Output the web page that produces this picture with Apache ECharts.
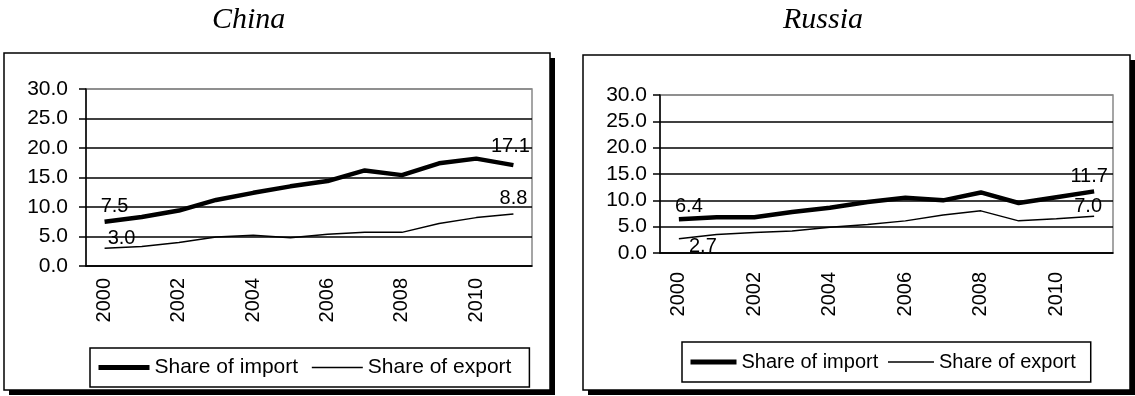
<!DOCTYPE html>
<html>
<head>
<meta charset="utf-8">
<title>China / Russia</title>
<script src="https://cdn.jsdelivr.net/npm/echarts@6/dist/echarts.min.js"></script>
<style>
  html, body { margin: 0; padding: 0; background: #fff; }
  #chart { width: 1135px; height: 396px; }
</style>
</head>
<body>
<div id="chart"></div>
<script>
const years = ['2000', '2001', '2002', '2003', '2004', '2005', '2006', '2007', '2008', '2009', '2010', '2011']
const chinaImport = [7.5, 8.3, 9.4, 11.2, 12.4, 13.5, 14.4, 16.2, 15.4, 17.4, 18.2, 17.1]
const chinaExport = [3.0, 3.3, 4.0, 4.9, 5.2, 4.8, 5.4, 5.7, 5.7, 7.2, 8.2, 8.8]
const russiaImport = [6.4, 6.8, 6.8, 7.8, 8.6, 9.7, 10.5, 10.0, 11.5, 9.5, 10.6, 11.7]
const russiaExport = [2.7, 3.5, 3.9, 4.2, 4.9, 5.4, 6.1, 7.2, 8.0, 6.1, 6.5, 7.0]
const seriesNames = ['Share of import', 'Share of export']
const yMin = 0
const yMax = 30
const yStep = 5

const font = 'Liberation Sans, Arial, sans-serif'
const serif = 'Liberation Serif, Times New Roman, serif'
const black = '#000'
const importWidth = 4.5
const exportWidth = 1.5

// only first and last point carry a value label
function withEndLabels (values, first, last) {
  return values.map(function (v, i) {
    if (i === 0) return { value: v, label: Object.assign({ show: true }, first) }
    if (i === values.length - 1) return { value: v, label: Object.assign({ show: true }, last) }
    return v
  })
}

function xAxisFor (gridIndex, margin) {
  return {
    type: 'category',
    gridIndex: gridIndex,
    data: years,
    boundaryGap: true,
    axisLine: { lineStyle: { color: black, width: 1.5 } },
    axisTick: { interval: 0, length: 7, lineStyle: { color: black, width: 1.5 } },
    axisLabel: { interval: 1, rotate: 90, margin: margin, color: black, fontSize: 20, fontFamily: font },
    splitLine: { show: false }
  }
}

function yAxisFor (gridIndex, margin) {
  return {
    type: 'value',
    gridIndex: gridIndex,
    min: yMin,
    max: yMax,
    interval: yStep,
    axisLine: { show: true, lineStyle: { color: black, width: 1.5 } },
    axisTick: { show: true, length: 7, lineStyle: { color: black, width: 1.5 } },
    axisLabel: {
      margin: margin,
      color: black,
      fontSize: 21,
      fontFamily: font,
      formatter: function (v) { return v.toFixed(1) }
    },
    splitLine: {
      show: true,
      lineStyle: { color: [black, black, black, black, black, black, '#888'], width: 1.6 }
    }
  }
}

function legendFor (left, top, itemWidth, itemGap, padding, fontSize) {
  return {
    data: [
      { name: seriesNames[0], lineStyle: { width: importWidth + 0.5 } },
      { name: seriesNames[1], lineStyle: { width: exportWidth } }
    ],
    left: left,
    top: top,
    orient: 'horizontal',
    itemWidth: itemWidth,
    itemHeight: 14,
    itemGap: itemGap,
    padding: padding,
    borderColor: black,
    borderWidth: 1.5,
    selectedMode: false,
    // hide the marker dot, keep only the line
    itemStyle: { opacity: 0 },
    textStyle: { color: black, fontSize: fontSize, fontFamily: font }
  }
}

const labelStyle = {
  color: black,
  fontSize: 20,
  fontFamily: font,
  formatter: function (p) { return p.value.toFixed(1) }
}

function lineSeries (name, values, idx, width, first, last) {
  return {
    name: name,
    type: 'line',
    xAxisIndex: idx,
    yAxisIndex: idx,
    symbol: 'circle',
    symbolSize: 0,
    showSymbol: true,
    showAllSymbol: true,
    smooth: false,
    lineStyle: { color: black, width: width },
    itemStyle: { color: black },
    label: labelStyle,
    data: withEndLabels(values, first, last)
  }
}

function frame (x, y, w, h) {
  return [
    { type: 'rect', z: -2, shape: { x: x + 5, y: y + 5, width: w, height: h }, style: { fill: black } },
    { type: 'rect', z: -1, shape: { x: x, y: y, width: w, height: h }, style: { fill: '#fff', stroke: black, lineWidth: 1.5 } }
  ]
}

const chart = echarts.init(document.getElementById('chart'), null, { renderer: 'canvas' })

const option = {
  backgroundColor: '#fff',
  animation: false,
  title: [
    { text: 'China', left: 207, top: 0, textStyle: { fontFamily: serif, fontStyle: 'italic', fontWeight: 'normal', fontSize: 30, color: black } },
    { text: 'Russia', left: 778, top: 0, textStyle: { fontFamily: serif, fontStyle: 'italic', fontWeight: 'normal', fontSize: 30, color: black } }
  ],
  graphic: [].concat(frame(4, 53, 546, 337), frame(583, 55, 547, 335)),
  grid: [
    { left: 86, top: 89, width: 446, height: 177, show: true, borderColor: '#888', borderWidth: 1.5, backgroundColor: 'transparent' },
    { left: 660, top: 95, width: 453, height: 158, show: true, borderColor: '#888', borderWidth: 1.5, backgroundColor: 'transparent' }
  ],
  xAxis: [xAxisFor(0, 12), xAxisFor(1, 19)],
  yAxis: [yAxisFor(0, 18), yAxisFor(1, 13)],
  legend: [
    legendFor(90, 348, 51, 13, [9, 18, 9, 6], 21),
    legendFor(682, 342, 46, 9, [10, 15, 10, 6], 20)
  ],
  series: [
    lineSeries(seriesNames[0], chinaImport, 0, importWidth,
      { position: 'top', distance: 5, offset: [10, 0] },
      { position: 'top', distance: 9, offset: [-3, 0] }),
    lineSeries(seriesNames[1], chinaExport, 0, exportWidth,
      { position: 'top', distance: 0, offset: [17, 0] },
      { position: 'top', distance: 6, offset: [0, 0] }),
    lineSeries(seriesNames[0], russiaImport, 1, importWidth,
      { position: 'top', distance: 3, offset: [10, 0] },
      { position: 'top', distance: 5, offset: [-5, 0] }),
    lineSeries(seriesNames[1], russiaExport, 1, exportWidth,
      { position: 'bottom', distance: -2, offset: [24, 0] },
      { position: 'top', distance: 0, offset: [-6, 0] })
  ]
}

chart.setOption(option)
window.addEventListener('resize', function () { chart.resize() })
</script>
</body>
</html>
